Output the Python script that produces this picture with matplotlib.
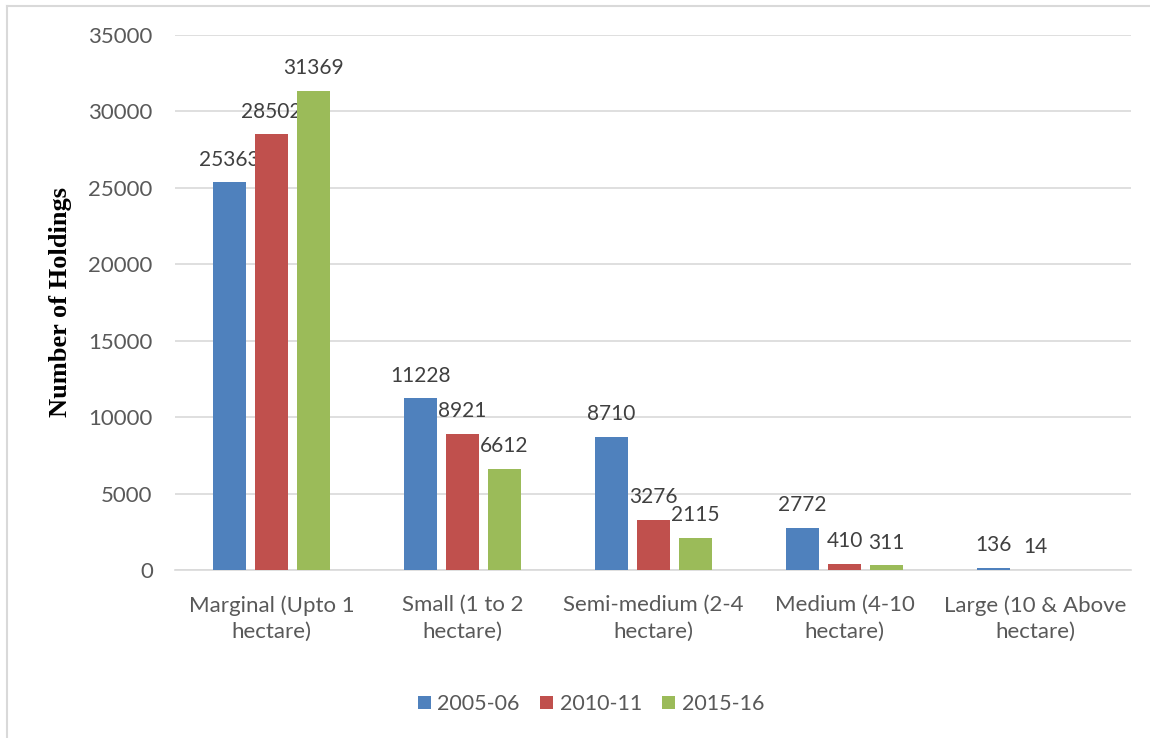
import numpy as np
import matplotlib.pyplot as plt
from matplotlib.lines import Line2D

categories = ['Marginal (Upto 1\nhectare)', 'Small (1 to 2\nhectare)', 'Semi-medium (2-4\nhectare)',
              'Medium (4-10\nhectare)', 'Large (10 & Above\nhectare)']
series = ['2005-06', '2010-11', '2015-16']
v2005 = [25363, 11228, 8710, 2772, 136]
v2010 = [28502, 8921, 3276, 410, 14]
v2015 = [31369, 6612, 2115, 311, 0]
colors = ['#4F81BD', '#C0504D', '#9BBB59']

plt.rcParams['font.family'] = ['Lato', 'DejaVu Sans']
txt = '#595959'

fig = plt.figure(figsize=(11.5, 7.38), dpi=100)
ax = fig.add_axes([175/1150, 1-570/738, 956/1150, 535/738])

x = np.arange(len(categories))
off = 0.22
w = 0.173
for i, (vals, name, c) in enumerate(zip([v2005, v2010, v2015], series, colors)):
    bars = ax.bar(x + (i-1)*off, vals, width=w, color=c, label=name, zorder=3)
    labs = [str(v) if v > 0 else '' for v in vals]
    ax.bar_label(bars, labels=labs, padding=9, fontsize=15, color='#404040')

ax.set_xlim(-0.505, 4.5)
ax.set_ylim(0, 35000)
ax.set_yticks(np.arange(0, 35001, 5000))
ax.set_xticks(x)
ax.set_xticklabels(categories, fontsize=16, color=txt, linespacing=1.4)
ax.tick_params(axis='y', labelsize=16, labelcolor=txt, length=0, pad=16)
ax.tick_params(axis='x', length=0, pad=18)
ax.grid(axis='y', color='#D9D9D9', lw=1.2, zorder=0)
for s in ['top', 'right', 'left']:
    ax.spines[s].set_visible(False)
ax.spines['bottom'].set_color('#D9D9D9')
ax.spines['bottom'].set_linewidth(1.2)

fig.text(60/1150, 1-302/738, 'Number of Holdings', rotation=90, ha='center', va='center',
         fontsize=19, fontweight='bold', family='Liberation Serif', color='black')

fig.legend(loc='center', bbox_to_anchor=(591/1150, 1-704/738), ncol=3, frameon=False,
           fontsize=15.5, handlelength=0.6, handleheight=0.6, handletextpad=0.3,
           columnspacing=0.95, labelcolor=txt)

# outer chart border (only top and left visible)
fig.add_artist(Line2D([7/1150, 7/1150], [0, 1-6/738], color='#D9D9D9', lw=1.5))
fig.add_artist(Line2D([7/1150, 1], [1-6/738, 1-6/738], color='#D9D9D9', lw=1.5))

fig.savefig('out.png', dpi=100)
